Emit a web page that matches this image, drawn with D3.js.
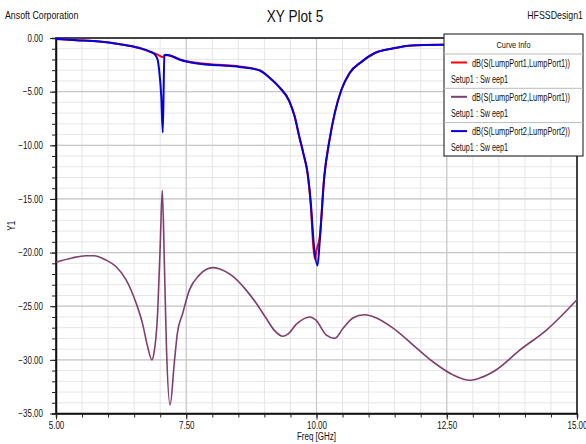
<!DOCTYPE html>
<html lang="en">
<head>
    <meta charset="UTF-8">
    <title>XY Plot 5</title>
    <script src="https://d3js.org/d3.v7.min.js"></script>
    <style>
        body { margin: 0; background: white; }
        text { font-family: "Liberation Sans", Arial, sans-serif; fill: #111; }
    </style>
</head>
<body>
    <div id="chart"></div>

    <script>
        // S11 - dB(S(LumpPort1,LumpPort1))
        var s11Freq = [5.00, 5.40, 5.83, 6.20, 6.60, 6.79, 6.95, 7.05, 7.10, 7.20, 7.37, 7.75, 8.13, 8.52, 8.90, 9.10, 9.29, 9.48, 9.58, 9.67, 9.75, 9.83, 9.89, 9.94, 9.97, 10.00, 10.06, 10.15, 10.25, 10.35, 10.48, 10.63, 10.87, 11.12, 11.44, 11.83, 12.50, 13.50, 15.00];
        var s11 = [-0.10, -0.20, -0.32, -0.55, -0.93, -1.25, -1.55, -1.78, -1.58, -1.65, -2.00, -2.35, -2.50, -2.65, -3.00, -3.70, -4.60, -5.90, -7.30, -9.20, -10.8, -12.7, -15.6, -19.5, -20.6, -19.8, -18.6, -12.9, -9.5, -7.0, -4.8, -3.3, -2.2, -1.4, -1.0, -0.69, -0.63, -0.60, -0.60];

        // S22 - dB(S(LumpPort2,LumpPort2))
        var s22Freq = [5.00, 5.40, 5.83, 6.20, 6.60, 6.79, 6.90, 6.95, 6.98, 7.02, 7.05, 7.08, 7.10, 7.20, 7.37, 7.75, 8.13, 8.52, 8.90, 9.10, 9.29, 9.48, 9.58, 9.67, 9.75, 9.83, 9.89, 9.95, 10.02, 10.06, 10.15, 10.25, 10.35, 10.48, 10.63, 10.87, 11.12, 11.44, 11.83, 12.50, 13.50, 15.00];
        var s22 = [-0.10, -0.20, -0.32, -0.55, -0.93, -1.25, -1.55, -2.00, -3.00, -5.40, -8.80, -1.60, -1.55, -1.65, -2.00, -2.40, -2.55, -2.70, -3.00, -3.70, -4.60, -5.90, -7.30, -9.20, -10.8, -12.6, -15.3, -19.3, -21.2, -19.1, -12.9, -9.5, -7.0, -4.8, -3.3, -2.2, -1.4, -1.0, -0.69, -0.63, -0.60, -0.60];

        // S21 - dB(S(LumpPort2,LumpPort1))
        var s21Freq = [5.00, 5.31, 5.57, 5.73, 5.96, 6.15, 6.34, 6.53, 6.66, 6.76, 6.84, 6.88, 6.95, 7.00, 7.04, 7.08, 7.12, 7.19, 7.27, 7.33, 7.43, 7.56, 7.75, 8.01, 8.13, 8.39, 8.65, 8.84, 9.03, 9.20, 9.35, 9.45, 9.61, 9.87, 9.99, 10.19, 10.35, 10.51, 10.70, 10.92, 11.15, 11.47, 11.85, 12.24, 12.62, 12.94, 13.13, 13.46, 13.90, 14.42, 15.00];
        var s21 = [-20.9, -20.5, -20.3, -20.3, -20.7, -21.3, -22.5, -24.6, -26.6, -28.8, -30.0, -29.4, -25.7, -19.4, -14.2, -21.0, -28.8, -34.2, -30.3, -27.5, -25.7, -23.5, -22.1, -21.4, -21.5, -22.2, -23.5, -24.7, -26.1, -27.3, -27.8, -27.6, -26.7, -26.0, -26.3, -27.7, -28.0, -27.05, -26.1, -25.8, -26.1, -27.05, -28.6, -30.2, -31.4, -31.9, -31.7, -30.9, -29.1, -27.2, -24.4];

        var xTicks = [5, 7.5, 10, 12.5, 15];
        var yTicks = [0, -5, -10, -15, -20, -25, -30, -35];

        var legendNames = ["dB(S(LumpPort1,LumpPort1))", "dB(S(LumpPort2,LumpPort1))", "dB(S(LumpPort2,LumpPort2))"];
        var legendColors = ["#ff0000", "#7f3f6e", "#0000e0"];

        var width = 586, height = 444;
        var margin = { top: 38, right: 9, bottom: 30.5, left: 56 };
        var w = width - margin.left - margin.right,
            h = height - margin.top - margin.bottom;

        var svg = d3.select("#chart")
            .append("svg")
            .attr("width", width)
            .attr("height", height);

        // header texts
        svg.append("text").attr("x", 5).attr("y", 19).attr("font-size", 11).text("Ansoft Corporation");
        svg.append("text").attr("x", 295).attr("y", 22).attr("font-size", 17).attr("text-anchor", "middle").text("XY Plot 5");
        svg.append("text").attr("x", 583).attr("y", 19).attr("font-size", 11).attr("text-anchor", "end").text("HFSSDesign1");

        var g = svg.append("g")
            .attr("transform", "translate(" + margin.left + "," + margin.top + ")");

        var x = d3.scaleLinear().domain([5, 15]).range([0, w]);
        var y = d3.scaleLinear().domain([-35, 0]).range([h, 0]);

        // grid: minor then major
        var xMinor = d3.range(5, 15.001, 0.5);
        var yMinor = d3.range(-35, 0.001, 1);

        g.selectAll(".vminor").data(xMinor).enter().append("line")
            .attr("x1", d => x(d)).attr("x2", d => x(d))
            .attr("y1", 0).attr("y2", h)
            .attr("stroke", "#e6e6e6").attr("stroke-width", 1);
        g.selectAll(".hminor").data(yMinor).enter().append("line")
            .attr("y1", d => y(d)).attr("y2", d => y(d))
            .attr("x1", 0).attr("x2", w)
            .attr("stroke", "#e6e6e6").attr("stroke-width", 1);
        g.selectAll(".vmajor").data(xTicks).enter().append("line")
            .attr("x1", d => x(d)).attr("x2", d => x(d))
            .attr("y1", 0).attr("y2", h)
            .attr("stroke", "#c8c8c8").attr("stroke-width", 1.2);
        g.selectAll(".hmajor").data(yTicks).enter().append("line")
            .attr("y1", d => y(d)).attr("y2", d => y(d))
            .attr("x1", 0).attr("x2", w)
            .attr("stroke", "#c8c8c8").attr("stroke-width", 1.2);

        // frame
        g.append("rect").attr("width", w).attr("height", h)
            .attr("fill", "none").attr("stroke", "#111").attr("stroke-width", 1.5);

        // axes
        g.append("g")
            .call(d3.axisLeft(y).tickValues(yMinor).tickSize(4).tickFormat(""));
        g.append("g")
            .call(d3.axisLeft(y).tickValues(yTicks).tickSize(6).tickFormat(d3.format(".2f")))
            .call(a => a.selectAll("text").attr("font-size", 10).attr("x", -13))
            .call(a => a.select(".domain").remove());
        g.append("g")
            .attr("transform", "translate(0," + h + ")")
            .call(d3.axisBottom(x).tickValues(xMinor).tickSize(4).tickFormat(""));
        g.append("g")
            .attr("transform", "translate(0," + h + ")")
            .call(d3.axisBottom(x).tickValues(xTicks).tickSize(6).tickFormat(d3.format(".2f")))
            .call(a => a.selectAll("text").attr("font-size", 10).attr("y", 8))
            .call(a => a.select(".domain").remove());
        g.selectAll(".domain").attr("stroke", "#111").attr("stroke-width", 1.5);
        g.selectAll(".tick line").attr("stroke", "#222");
        g.selectAll(".tick text").style("fill", "#111").attr("font-family", "Liberation Sans, Arial, sans-serif");

        // axis titles
        svg.append("text").attr("x", margin.left + w / 2).attr("y", 440).attr("text-anchor", "middle")
            .attr("font-size", 10).text("Freq [GHz]");
        svg.append("text").attr("transform", "translate(15," + (margin.top + h / 2) + ") rotate(-90)")
            .attr("text-anchor", "middle").attr("font-size", 10).text("Y1");

        // curves
        var mk = function (fr, vals) { return fr.map((f, i) => ({ f: f, v: vals[i] })); };
        var line = d3.line().x(d => x(d.f)).y(d => y(d.v)).curve(d3.curveMonotoneX);

        var plot = g.append("g");
        plot.append("path").datum(mk(s11Freq, s11))
            .attr("fill", "none").attr("stroke", legendColors[0]).attr("stroke-width", 2).attr("d", line);
        plot.append("path").datum(mk(s21Freq, s21))
            .attr("fill", "none").attr("stroke", legendColors[1]).attr("stroke-width", 1.6).attr("d", line);
        plot.append("path").datum(mk(s22Freq, s22))
            .attr("fill", "none").attr("stroke", legendColors[2]).attr("stroke-width", 2).attr("d", line);

        // the original uses a condensed face: squeeze the texts horizontally
        svg.selectAll("text").each(function () {
            var len = this.getComputedTextLength();
            if (len > 0) {
                d3.select(this).attr("textLength", len * 0.8).attr("lengthAdjust", "spacingAndGlyphs");
            }
        });

        // legend
        var lg = svg.append("g").attr("transform", "translate(444,34)");
        lg.append("rect").attr("width", 139).attr("height", 122)
            .attr("fill", "white").attr("stroke", "#111").attr("stroke-width", 1);
        lg.append("text").attr("x", 69.5).attr("y", 14).attr("text-anchor", "middle")
            .attr("font-size", 9.5).attr("textLength", 34).attr("lengthAdjust", "spacingAndGlyphs")
            .text("Curve Info");
        lg.append("line").attr("x1", 0).attr("x2", 139).attr("y1", 20).attr("y2", 20)
            .attr("stroke", "#bbb");
        legendNames.forEach(function (name, i) {
            var top = 20 + i * 34.3;
            if (i > 0) {
                lg.append("line").attr("x1", 0).attr("x2", 139).attr("y1", top).attr("y2", top)
                    .attr("stroke", "#bbb");
            }
            lg.append("line").attr("x1", 7).attr("x2", 23).attr("y1", top + 8.5).attr("y2", top + 8.5)
                .attr("stroke", legendColors[i]).attr("stroke-width", 2);
            lg.append("text").attr("x", 28).attr("y", top + 12.5).attr("font-size", 10)
                .attr("textLength", 98).attr("lengthAdjust", "spacingAndGlyphs").text(name);
            lg.append("text").attr("x", 7).attr("y", top + 28.5).attr("font-size", 10)
                .attr("textLength", 57).attr("lengthAdjust", "spacingAndGlyphs").text("Setup1 : Sw eep1");
        });
    </script>
</body>
</html>
